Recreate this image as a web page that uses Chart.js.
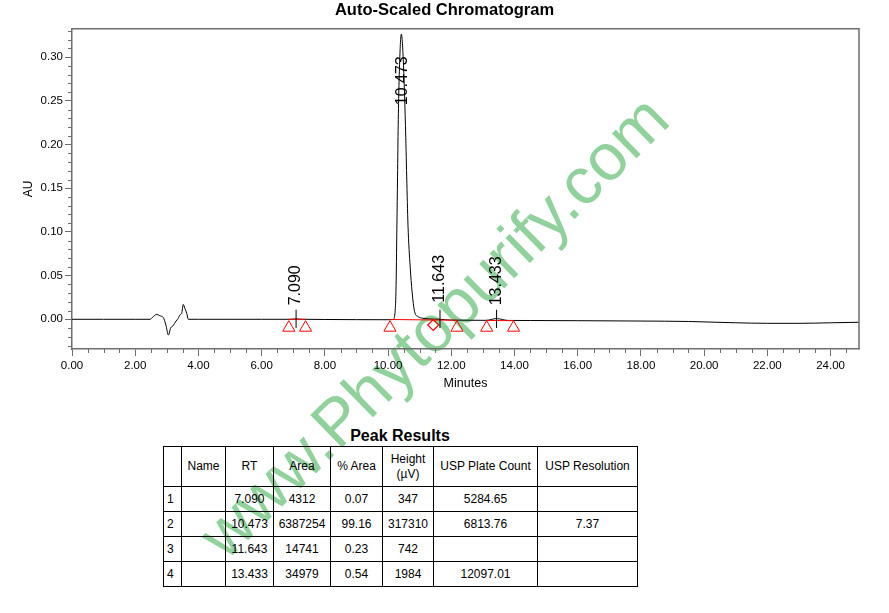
<!DOCTYPE html>
<html>
<head>
<meta charset="utf-8">
<title>Auto-Scaled Chromatogram</title>
<script src="https://cdn.jsdelivr.net/npm/chart.js@4.4.1/dist/chart.umd.min.js"></script>
<style>
  html, body { margin: 0; padding: 0; background: #fff; }
  body { width: 889px; height: 613px; position: relative; overflow: hidden; font-family: "Liberation Sans", Arial, sans-serif; }
  #marca { position: absolute; left: 433px; top: 326px; transform: translate(-50%, -50%) rotate(-44.5deg); font-size: 66px; color: #90d19c; white-space: nowrap; z-index: 0; }
  #grafico { position: absolute; left: 0; top: 0; z-index: 1; }
  #tituloTabla { position: absolute; left: 163px; width: 474px; top: 427px; line-height: 18px; text-align: center; font-weight: bold; font-size: 16px; z-index: 1; }
  #tabla { position: absolute; left: 163px; top: 446px; width: 474px; border-collapse: collapse; table-layout: fixed; font-size: 12px; z-index: 1; }
  #tabla td, #tabla th { border: 1.5px solid #000; padding: 0; text-align: center; font-weight: normal; }
  #tabla tr.cabecera { height: 40px; }
  #tabla th { line-height: 15px; }
  #tabla tr { height: 25px; }
  #tabla td.num { text-align: left; padding-left: 3px; }
</style>
</head>
<body>
<div id="marca">www.Phytopurify.com</div>
<canvas id="grafico" width="889" height="400"></canvas>
<div id="tituloTabla">Peak Results</div>
<table id="tabla">
  <colgroup>
    <col style="width:18px"><col style="width:44px"><col style="width:48px"><col style="width:57px">
    <col style="width:52px"><col style="width:51px"><col style="width:104px"><col style="width:100px">
  </colgroup>
  <tr class="cabecera"><th></th><th>Name</th><th>RT</th><th>Area</th><th>% Area</th><th>Height<br>(µV)</th><th>USP Plate Count</th><th>USP Resolution</th></tr>
</table>
<script>
// senal del detector (minutos, AU)
const tiempoMin = [0, 1.0, 2.0, 2.47, 2.57, 2.68, 2.78, 2.89, 2.97, 3.05, 3.12, 3.20, 3.29, 3.36, 3.41, 3.47, 3.52, 3.57, 3.63, 3.68,
  4.0, 5.0, 6.0, 6.9, 7.09, 7.3, 8.0, 9.0, 10.0,
  10.15, 10.19, 10.22, 10.25, 10.28, 10.30, 10.32, 10.37, 10.42, 10.48, 10.55, 10.59, 10.63, 10.70, 10.76, 10.84, 10.95, 11.10,
  11.3, 11.64, 12.0, 12.6, 13.1, 13.43, 13.8, 14.5,
  16.0, 18.0, 19.5, 21.0, 22.0, 23.0, 24.0, 24.9];
const absorbanciaAU = [0.0000, 0.0000, 0.0000, 0.0000, 0.0030, 0.0057, 0.0040, 0.0020, -0.0065, -0.0180, -0.0100, -0.0073, -0.0020, 0.0010, 0.0050, 0.0068, 0.0170, 0.0126, 0.0068, 0.0000,
  0.0000, 0.0000, 0.0000, 0.0000, 0.0004, 0.0000, -0.0002, -0.0004, -0.0005,
  -0.0003, 0.0010, 0.0080, 0.0320, 0.1080, 0.1630, 0.2220, 0.2980, 0.3265, 0.2980, 0.2220, 0.1630, 0.1080, 0.0600, 0.0315, 0.0087, 0.0030, 0.0012,
  0.0004, 0.0000, -0.0009, -0.0011, -0.0012, 0.0008, -0.0013, -0.0014,
  -0.0016, -0.0020, -0.0025, -0.0040, -0.0046, -0.0046, -0.0040, -0.0034];

// lineas base de integracion
const lineasBaseMin = [[6.86, 7.39], [10.06, 11.43, 12.18], [13.12, 13.97]];
const lineasBaseAU = [[0.0000, 0.0000], [-0.0002, -0.0008, -0.0011], [-0.0013, -0.0016]];

// marcas de inicio / fin de pico
const triangulosMin = [6.86, 7.39, 10.06, 12.18, 13.12, 13.97];
const triangulosAU = [-0.0096, -0.0096, -0.0096, -0.0096, -0.0096, -0.0096];
const rombosMin = [11.43];
const rombosAU = [-0.0065];

// picos
const picoRT = [7.090, 10.473, 11.643, 13.433];
const picoEtiquetaAU = [0.016, 0.245, 0.019, 0.016];
const picoMarcaAU = [0.011, null, 0.011, 0.011];
const picoArea = [4312, 6387254, 14741, 34979];
const picoPorcArea = [0.07, 99.16, 0.23, 0.54];
const picoAltura = [347, 317310, 742, 1984];
const platosUSP = [5284.65, 6813.76, null, 12097.01];
const resolucionUSP = [null, 7.37, null, null];

// ejes
const xTickLabels = ['0.00', '2.00', '4.00', '6.00', '8.00', '10.00', '12.00', '14.00', '16.00', '18.00', '20.00', '22.00', '24.00'];
const yTickLabels = ['0.00', '0.05', '0.10', '0.15', '0.20', '0.25', '0.30'];

const gris = '#6e6e6e';
const fuente = '"Liberation Sans", Arial, sans-serif';
Chart.defaults.font.family = fuente;
Chart.defaults.color = '#000';

const etiqueta = (lista, v) => lista.find((l) => Math.abs(Number(l) - v) < 1e-6) || '';

const anotaciones = {
  id: 'anotaciones',
  afterDatasetsDraw(chart) {
    const { ctx, chartArea, scales: { x, y } } = chart;
    ctx.save();
    ctx.strokeStyle = gris;
    ctx.lineWidth = 1.5;
    ctx.beginPath();
    ctx.moveTo(chartArea.left, chartArea.top);
    ctx.lineTo(chartArea.right, chartArea.top);
    ctx.lineTo(chartArea.right, chartArea.bottom);
    ctx.stroke();

    // marcas menores
    ctx.lineWidth = 1;
    ctx.beginPath();
    x.ticks.forEach((t) => {
      if (etiqueta(xTickLabels, t.value)) return;
      const px = Math.round(x.getPixelForValue(t.value)) + 0.5;
      ctx.moveTo(px, chartArea.bottom);
      ctx.lineTo(px, chartArea.bottom + 4);
    });
    y.ticks.forEach((t) => {
      if (etiqueta(yTickLabels, t.value)) return;
      const py = Math.round(y.getPixelForValue(t.value)) + 0.5;
      ctx.moveTo(chartArea.left, py);
      ctx.lineTo(chartArea.left - 4, py);
    });
    ctx.stroke();

    // etiquetas de picos
    ctx.strokeStyle = '#000';
    ctx.fillStyle = '#000';
    ctx.font = '16px ' + fuente;
    picoRT.forEach((rt, i) => {
      const px = x.getPixelForValue(rt);
      if (picoMarcaAU[i] !== null) {
        ctx.beginPath();
        ctx.moveTo(px, y.getPixelForValue(-0.010));
        ctx.lineTo(px, y.getPixelForValue(picoMarcaAU[i]));
        ctx.stroke();
      }
      ctx.save();
      ctx.translate(px + 4, y.getPixelForValue(picoEtiquetaAU[i]));
      ctx.rotate(-Math.PI / 2);
      ctx.textAlign = 'left';
      ctx.textBaseline = 'alphabetic';
      ctx.fillText(rt.toFixed(3), 0, 0);
      ctx.restore();
    });
    ctx.restore();
  }
};

const puntos = (xs, ys) => xs.map((v, i) => ({ x: v, y: ys[i] }));

const datasets = [];
lineasBaseMin.forEach((tramo, i) => {
  datasets.push({ data: puntos(tramo, lineasBaseAU[i]), borderColor: '#ff0000', borderWidth: 1, pointRadius: 0, fill: false });
});
datasets.push({ data: puntos(triangulosMin, triangulosAU), showLine: false, pointStyle: 'triangle', pointRadius: 7, pointBorderColor: '#ff0000', pointBackgroundColor: 'rgba(0,0,0,0)', pointBorderWidth: 1 });
datasets.push({ data: puntos(rombosMin, rombosAU), showLine: false, pointStyle: 'rectRot', pointRadius: 5.5, pointBorderColor: '#ff0000', pointBackgroundColor: 'rgba(0,0,0,0)', pointBorderWidth: 1.2 });
datasets.push({ data: puntos(tiempoMin, absorbanciaAU), borderColor: '#000', borderWidth: 1, pointRadius: 0, cubicInterpolationMode: 'monotone', fill: false });

new Chart(document.querySelector('#grafico'), {
  type: 'line',
  data: { datasets },
  options: {
    responsive: false,
    animation: false,
    layout: { padding: 0 },
    plugins: {
      legend: { display: false },
      tooltip: { enabled: false },
      title: {
        display: true,
        text: 'Auto-Scaled Chromatogram',
        color: '#000',
        font: { size: 16.5, weight: 'bold' },
        padding: { top: 1, bottom: 8 }
      }
    },
    scales: {
      x: {
        type: 'linear',
        min: 0,
        max: 24.9,
        bounds: 'data',
        afterBuildTicks: (scale) => {
          const ticks = [];
          for (let i = 0; i <= 49; i++) ticks.push({ value: i / 2 });
          scale.ticks = ticks;
        },
        afterFit: (scale) => { scale.height = 51; },
        ticks: { autoSkip: false, maxRotation: 0, padding: 3, font: { size: 11.5 }, color: '#000', callback: (v) => etiqueta(xTickLabels, v) },
        grid: { drawOnChartArea: false, tickLength: 7, tickWidth: 1, tickColor: (c) => (c.tick && etiqueta(xTickLabels, c.tick.value) ? gris : 'rgba(0,0,0,0)') },
        border: { color: gris, width: 1.5 },
        title: { display: true, text: 'Minutes', color: '#000', font: { size: 12.5 }, padding: { top: 0, bottom: 9 } }
      },
      y: {
        type: 'linear',
        min: -0.034,
        max: 0.3325,
        bounds: 'data',
        afterBuildTicks: (scale) => {
          const ticks = [];
          for (let i = -3; i <= 33; i++) ticks.push({ value: i / 100 });
          scale.ticks = ticks;
        },
        afterFit: (scale) => { scale.width = 72; },
        ticks: { autoSkip: false, padding: 2, font: { size: 11.5 }, color: '#000', callback: (v) => etiqueta(yTickLabels, v) },
        grid: { drawOnChartArea: false, tickLength: 7, tickWidth: 1, tickColor: (c) => (c.tick && etiqueta(yTickLabels, c.tick.value) ? gris : 'rgba(0,0,0,0)') },
        border: { color: gris, width: 1.5 },
        title: { display: true, text: 'AU', color: '#000', font: { size: 12 }, padding: { top: 21, bottom: 0 } }
      },
      derecha: {
        type: 'linear',
        position: 'right',
        display: true,
        afterFit: (scale) => { scale.width = 30; },
        ticks: { display: false },
        grid: { display: false },
        border: { display: false }
      }
    }
  },
  plugins: [anotaciones]
});

// tabla de resultados
const tabla = document.querySelector('#tabla');
picoRT.forEach((rt, i) => {
  const fila = document.createElement('tr');
  const celdas = [
    String(i + 1),
    '',
    rt.toFixed(3),
    String(picoArea[i]),
    picoPorcArea[i].toFixed(2),
    String(picoAltura[i]),
    platosUSP[i] === null ? '' : platosUSP[i].toFixed(2),
    resolucionUSP[i] === null ? '' : resolucionUSP[i].toFixed(2)
  ];
  celdas.forEach((texto, j) => {
    const td = document.createElement('td');
    if (j === 0) td.className = 'num';
    td.textContent = texto;
    fila.appendChild(td);
  });
  tabla.appendChild(fila);
});
</script>
</body>
</html>
